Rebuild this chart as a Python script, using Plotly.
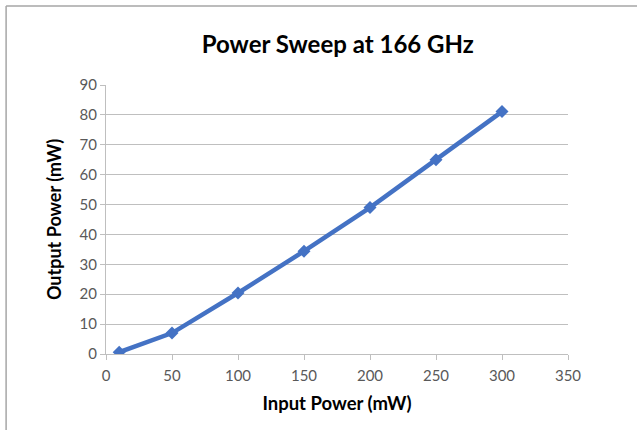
import plotly.graph_objects as go

input_power = [10, 50, 100, 150, 200, 250, 300]
output_power = [0.6, 7.0, 20.4, 34.4, 49.0, 65.0, 81.1]

L, R, T, B = 106, 68.5, 85, 75.7
W, H = 637, 430
pw = W - L - R
ph = H - T - B

fig = go.Figure()
fig.add_trace(go.Scatter(
    x=input_power, y=output_power, mode="lines+markers",
    line=dict(color="#4472C4", width=4.5),
    marker=dict(symbol="diamond", size=10, color="#4472C4"),
    showlegend=False,
))

bx = (6 - L) / pw
by = 1 + (T - 6) / ph
fig.add_shape(type="line", xref="paper", yref="paper", x0=bx, x1=bx, y0=-1, y1=by,
              line=dict(color="#A6A6A6", width=1.5))
fig.add_shape(type="line", xref="paper", yref="paper", x0=bx, x1=3, y0=by, y1=by,
              line=dict(color="#A6A6A6", width=1.5))

fig.update_layout(
    width=W, height=H,
    margin=dict(l=L, r=R, t=T, b=B, pad=0),
    paper_bgcolor="white", plot_bgcolor="white",
    font=dict(family="Lato, Carlito, sans-serif", color="#595959", size=15),
    title=dict(text="<b>Power Sweep at 166 GHz</b>", x=(338 - L) / pw, xref="paper",
               xanchor="center",
               y=1 - 45 / H, yanchor="middle",
               font=dict(size=24, color="#000000")),
    xaxis=dict(range=[0, 350], dtick=50, tick0=0, showgrid=False,
               showline=True, linecolor="#BFBFBF", linewidth=1,
               ticks="outside", ticklen=5, tickcolor="#BFBFBF",
               ticklabelstandoff=3,
               zeroline=False, automargin=False,
               title=dict(text="<b>Input Power (mW)</b>", standoff=14,
                          font=dict(size=18.5, color="#000000"))),
    yaxis=dict(range=[0, 90], dtick=10, tick0=0, showgrid=True,
               gridcolor="#BFBFBF", gridwidth=1,
               showline=True, linecolor="#BFBFBF", linewidth=1,
               ticks="outside", ticklen=5, tickcolor="#BFBFBF",
               zeroline=False, automargin=False,
               title=dict(text="<b>Output Power (mW)</b>", standoff=13,
                          font=dict(size=18, color="#000000"))),
)

fig.write_html("out.html", config={"displayModeBar": False},
               post_script="document.body.style.margin='0';")
